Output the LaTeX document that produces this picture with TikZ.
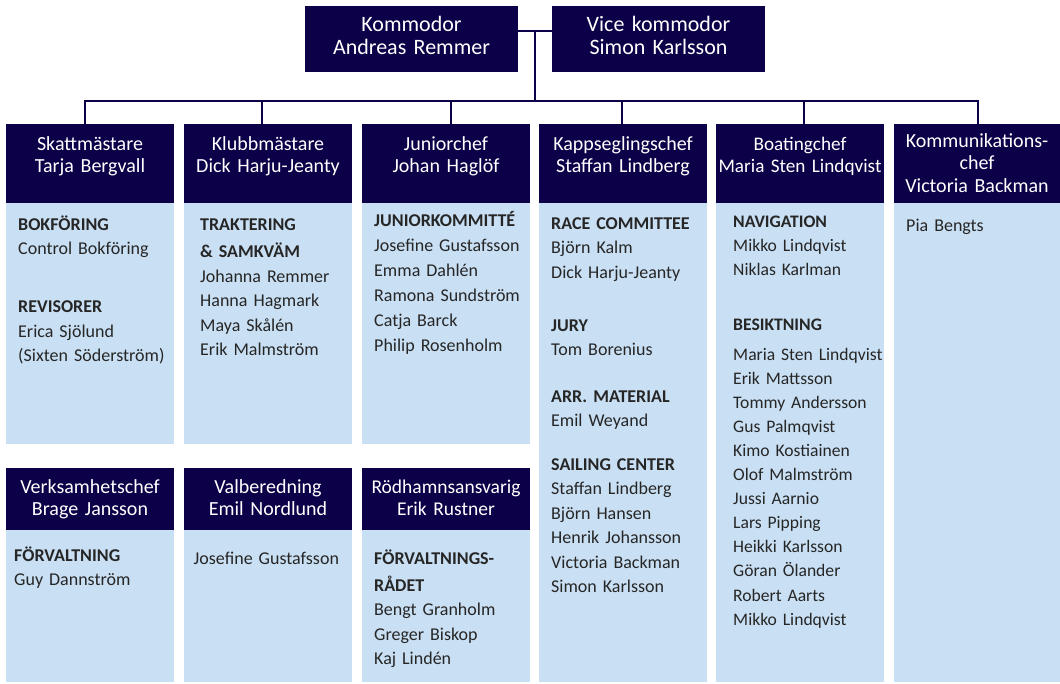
\documentclass[tikz,border=0pt]{standalone}
\usepackage{fontspec}
\setmainfont{Carlito}
\definecolor{navy}{RGB}{12,0,72}
\definecolor{pale}{RGB}{201,223,243}
\definecolor{ink}{RGB}{38,38,38}
\newcommand{\grp}[1]{\textbf{#1}}

\begin{document}
\begin{tikzpicture}[x=1pt,y=-1pt,
    link/.style={draw=navy,line width=1.8pt,line cap=rect},
    chief/.style={fill=navy,minimum width=168pt,minimum height=79pt,inner sep=0pt},
    title/.style={anchor=base,text=white,text width=180pt,align=center,inner sep=0pt,font=\fontsize{20}{22}\selectfont},
    member/.style={anchor=base west,text=ink,text width=160pt,align=left,inner sep=0pt,font=\fontsize{18}{24.5}\selectfont}]
    \useasboundingbox (0,0) rectangle (1060,683);

    % board
    \node [chief,minimum width=213pt,minimum height=66pt] (kommodor) at (411.5,39){};
    \node [chief,minimum width=213pt,minimum height=66pt] (vice) at (658.5,39){};
    \node [title,font=\fontsize{22}{22.3}\selectfont] (tkommodor) at (411.5,31.7){Kommodor\\Andreas Remmer};
    \node [title,font=\fontsize{22}{22.3}\selectfont] (tvice) at (658.5,31.7){Vice kommodor\\Simon Karlsson};

    % member lists
    \fill [pale] (6,203) rectangle (174,444);
    \fill [pale] (184,203) rectangle (352,444);
    \fill [pale] (362,203) rectangle (530,444);
    \fill [pale] (539,203) rectangle (707,682);
    \fill [pale] (716,203) rectangle (884,682);
    \fill [pale] (894,203) rectangle (1060,682);
    \fill [pale] (6,529) rectangle (174,682);
    \fill [pale] (184,529) rectangle (352,682);
    \fill [pale] (362,529) rectangle (530,682);

    % first row
    \node [chief] (skatt) at (90,163.5){};
    \node [chief] (klubb) at (268,163.5){};
    \node [chief] (junior) at (446,163.5){};
    \node [chief] (kapp) at (623,163.5){};
    \node [chief] (boat) at (800,163.5){};
    \node [chief,minimum width=166pt] (komm) at (977,163.5){};
    \node [title] (tskatt) at (90,150.5){Skattmästare\\Tarja Bergvall};
    \node [title] (tklubb) at (268,150.5){Klubbmästare\\Dick Harju-Jeanty};
    \node [title] (tjunior) at (446,150.5){Juniorchef\\Johan Haglöf};
    \node [title] (tkapp) at (623,150.5){Kappseglingschef\\Staffan Lindberg};
    \node [title,font=\fontsize{19.2}{22}\selectfont] (tboat) at (800,150.5){Boatingchef\\Maria Sten Lindqvist};
    \node [title,font=\fontsize{20}{22.5}\selectfont] (tkomm) at (977,147){Kommunikations-\\chef\\Victoria Backman};

    % second row
    \node [chief,minimum height=61.5pt] (verk) at (90,498.75){};
    \node [chief,minimum height=61.5pt] (val) at (268,498.75){};
    \node [chief,minimum height=61.5pt] (rodh) at (446,498.75){};
    \node [title,font=\fontsize{20}{22.7}\selectfont] (tverk) at (90,493){Verksamhetschef\\Brage Jansson};
    \node [title,font=\fontsize{20}{22.7}\selectfont] (tval) at (268,493){Valberedning\\Emil Nordlund};
    \node [title,font=\fontsize{19.5}{22.7}\selectfont] (trodh) at (446,493){Rödhamnsansvarig\\Erik Rustner};

    \node [member] (mskatt) at (18,230.3){\grp{BOKFÖRING}\\Control Bokföring\\[33.4pt]\grp{REVISORER}\\Erica Sjölund\\(Sixten Söderström)};
    \node [member] (mklubb) at (200,230.3){\grp{TRAKTERING}\\[3pt]\grp{\& SAMKVÄM}\\Johanna Remmer\\Hanna Hagmark\\Maya Skålén\\Erik Malmström};
    \node [member,font=\fontsize{18}{25}\selectfont] (mjunior) at (374,226){\grp{JUNIORKOMMITTÉ}\\Josefine Gustafsson\\Emma Dahlén\\Ramona Sundström\\Catja Barck\\Philip Rosenholm};
    \node [member] (mkapp) at (551,229){\grp{RACE COMMITTEE}\\Björn Kalm\\Dick Harju-Jeanty\\[28.9pt]\grp{JURY}\\Tom Borenius\\[21.8pt]\grp{ARR. MATERIAL}\\Emil Weyand\\[18.8pt]\grp{SAILING CENTER}\\Staffan Lindberg\\Björn Hansen\\Henrik Johansson\\Victoria Backman\\Simon Karlsson};
    \node [member,font=\fontsize{17.6}{24.1}\selectfont] (mboat) at (733,227){\grp{NAVIGATION}\\Mikko Lindqvist\\Niklas Karlman\\[30.7pt]\grp{BESIKTNING}\\[5.9pt]Maria Sten Lindqvist\\Erik Mattsson\\Tommy Andersson\\Gus Palmqvist\\Kimo Kostiainen\\Olof Malmström\\Jussi Aarnio\\Lars Pipping\\Heikki Karlsson\\Göran Ölander\\Robert Aarts\\Mikko Lindqvist};
    \node [member] (mkomm) at (906,231){Pia Bengts};
    \node [member] (mverk) at (14,561){\grp{FÖRVALTNING}\\Guy Dannström};
    \node [member] (mval) at (193.5,564.6){Josefine Gustafsson};
    \node [member] (mrodh) at (374,564.6){\grp{FÖRVALTNINGS-}\\[2pt]\grp{RÅDET}\\Bengt Granholm\\Greger Biskop\\Kaj Lindén};

    % lines
    \coordinate (join) at (535,31);
    \coordinate (bus) at (535,101);
    \draw [link] (kommodor.east |- join) -- (vice.west |- join);
    \draw [link] (join) -- (bus);
    \draw [link] ([xshift=-5pt]skatt.north |- bus) -- ([xshift=1pt]komm.north |- bus);
    \draw [link] ([xshift=-5pt]skatt.north |- bus) -- ([xshift=-5pt]skatt.north);
    \draw [link] ([xshift=-6pt]klubb.north |- bus) -- ([xshift=-6pt]klubb.north);
    \draw [link] ([xshift=5pt]junior.north |- bus) -- ([xshift=5pt]junior.north);
    \draw [link] ([xshift=-1pt]kapp.north |- bus) -- ([xshift=-1pt]kapp.north);
    \draw [link] ([xshift=4pt]boat.north |- bus) -- ([xshift=4pt]boat.north);
    \draw [link] ([xshift=1pt]komm.north |- bus) -- ([xshift=1pt]komm.north);
\end{tikzpicture}
\end{document}
